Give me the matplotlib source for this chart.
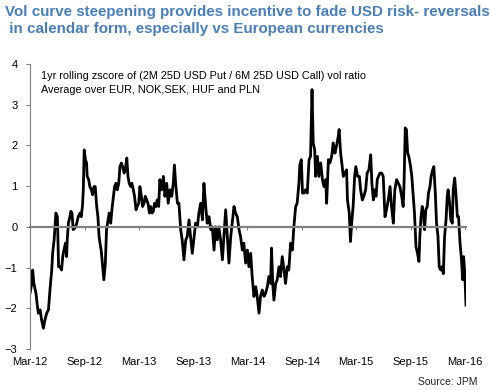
import numpy as np
import pandas as pd
import matplotlib
matplotlib.use("Agg")
import matplotlib.pyplot as plt
import matplotlib.dates as mdates

plt.rcParams['font.family'] = ['Liberation Sans', 'DejaVu Sans']

start = pd.Timestamp("2012-03-01")

# days after 1 Mar 2012
days = [
    0, 6, 9, 13, 20, 25, 28, 34, 39, 45, 50, 56, 62, 67, 73, 76, 81, 84, 87, 92,
    96, 101, 106, 110, 114, 119, 123, 125, 129, 134, 137, 141, 145, 151, 157, 162, 168, 172, 176, 179,
    182, 186, 190, 192, 197, 201, 206, 210, 215, 219, 224, 228, 232, 235, 239, 244, 248, 253, 257, 262,
    266, 271, 275, 280, 284, 289, 293, 298, 302, 307, 311, 316, 320, 325, 329, 333, 338, 342, 347, 351,
    356, 360, 365, 369, 374, 378, 383, 387, 392, 396, 401, 405, 410, 414, 418, 423, 427, 432, 436, 442,
    448, 453, 459, 464, 470, 476, 481, 485, 489, 495, 500, 506, 511, 517, 523, 528, 534, 539, 545, 551,
    556, 562, 567, 573, 579, 584, 590, 595, 601, 607, 612, 618, 623, 629, 634, 640, 646, 651, 657, 662,
    668, 674, 679, 685, 690, 696, 702, 707, 713, 718, 724, 730, 735, 741, 746, 752, 758, 763, 769, 774,
    780, 786, 791, 797, 802, 808, 811, 815, 819, 825, 830, 836, 841, 847, 853, 858, 864, 869, 875, 881,
    886, 892, 897, 903, 906, 911, 915, 920, 925, 931, 937, 942, 947, 951, 956, 959, 965, 970, 976, 982,
    987, 993, 996, 1002, 1007, 1013, 1018, 1024, 1029, 1035, 1038, 1043, 1047, 1052, 1057, 1063, 1066, 1072, 1076, 1081,
    1085, 1090, 1094, 1100, 1106, 1110, 1116, 1121, 1127, 1132, 1138, 1144, 1148, 1153, 1157, 1162, 1166, 1170, 1175, 1181,
    1186, 1192, 1197, 1203, 1209, 1214, 1220, 1225, 1231, 1237, 1242, 1248, 1253, 1256, 1260, 1264, 1268, 1272, 1278, 1282,
    1287, 1291, 1296, 1301, 1306, 1309, 1313, 1317, 1322, 1325, 1329, 1334, 1338, 1343, 1347, 1352, 1356, 1361, 1365, 1370,
    1374, 1379, 1383, 1388, 1392, 1397, 1401, 1404, 1409, 1413, 1418, 1421, 1426, 1430, 1435, 1439, 1444, 1448, 1453, 1456,
    1460, 1464,
]

zscore = [
    -1.63, -1.39, -1.06, -1.39, -1.63, -1.96, -2.12, -2.04, -2.29, -2.49, -2.29, -2.12, -2.04, -1.55, -1.06, -0.65, -0.32, 0.0, 0.34, 0.25,
    -0.98, -0.98, -1.06, -0.73, -0.57, -0.4, -0.73, -0.32, 0.09, 0.25, 0.38, 0.34, -0.07, -0.03, 0.09, 0.25, 0.34, 0.25, 0.5, 0.91,
    1.89, 1.65, 1.57, 1.24, 1.16, 0.99, 0.91, 0.79, 0.99, 0.99, 0.5, 0.25, -0.24, -0.4, -0.57, -0.98, -1.3, -0.89, -0.07, 0.17,
    0.34, 0.09, 0.42, 0.75, 0.99, 1.07, 0.91, 1.07, 1.48, 1.57, 1.48, 1.32, 1.4, 1.69, 1.24, 1.07, 0.99, 1.07, 0.91, 0.75,
    0.42, 0.5, 0.58, 0.99, 0.75, 0.5, 0.58, 0.75, 0.66, 0.58, 0.34, 0.5, 0.34, 0.38, 0.58, 0.5, 0.66, 0.5, 1.16, 0.91,
    1.24, 0.75, 1.07, 0.58, 0.91, 0.75, 1.07, 1.52, 1.07, 0.58, 0.58, -0.07, -0.32, -0.81, -0.32, -0.24, 0.17, -0.24, -0.65, -0.24,
    0.09, 0.0, 0.34, 0.58, 0.17, 1.07, 0.5, 0.09, 0.25, -0.07, 0.0, -0.57, 0.0, -0.32, 0.0, -0.32, -0.81, -0.24, 0.42, -0.16,
    -0.89, -0.24, 0.09, 0.5, 0.34, 0.25, -0.07, -0.24, -0.57, -0.4, -0.89, -0.57, -0.98, -0.65, -1.22, -1.71, -1.47, -1.71, -2.12, -1.71,
    -1.55, -1.71, -1.63, -1.47, -1.22, -1.39, -0.52, -1.39, -1.8, -1.39, -1.3, -0.98, -1.22, -0.73, -1.06, -1.39, -0.98, -1.06, -0.4, -0.57,
    0.0, 0.5, 0.58, 1.07, 1.52, 1.65, 0.83, 0.83, 0.91, 0.83, 1.65, 1.73, 3.37, 2.06, 1.89, 1.24, 1.73, 1.24, 1.57, 1.16,
    0.99, 1.16, 0.58, 1.65, 1.57, 1.73, 2.06, 1.81, 1.98, 2.22, 2.39, 1.81, 1.57, 1.24, 1.32, 1.4, 0.66, 0.34, -0.36, 0.17,
    0.5, 1.24, 1.48, 1.24, 1.24, 0.91, 0.66, 0.75, 0.91, 1.32, 1.4, 1.77, 1.07, 0.66, 0.91, 0.75, 1.16, 1.24, 1.32, 1.32,
    1.24, 0.25, 0.42, 0.66, 0.99, 0.5, 0.09, 0.91, 1.16, 1.07, 0.99, 0.75, 0.5, 1.07, 2.43, 2.39, 1.81, 1.73, 1.48, 1.24,
    0.75, 0.34, -0.48, -0.65, -0.85, -0.24, 0.25, 0.5, 0.25, -0.07, 0.42, 0.5, 0.83, 0.99, 1.24, 1.4, 1.48, 0.83, 0.09, -0.24,
    -0.98, -1.06, -0.98, -1.15, -0.24, 0.17, 0.75, 0.91, 0.58, 0.17, 0.09, 0.91, 1.2, 0.83, 0.25, 0.25, -0.4, -0.73, -1.3, -0.73,
    -1.15, -1.92,
]

tick_dates = ["2012-03-01", "2012-09-01", "2013-03-01", "2013-09-01", "2014-03-01",
              "2014-09-01", "2015-03-01", "2015-09-01", "2016-03-01"]

dates = start + pd.to_timedelta(days, unit="D")

fig = plt.figure(figsize=(4.9, 3.9), dpi=100)
ax = fig.add_axes([30 / 490, 41 / 390, 436 / 490, 285 / 390])

ax.plot(dates, zscore, color="black", lw=2.0)

ax.set_ylim(-3, 4)
ax.set_xlim(start, start + pd.Timedelta(days=1464))
ax.set_yticks(range(-3, 5))

grey = "#808080"
for s in ["top", "right"]:
    ax.spines[s].set_visible(False)
ax.spines["left"].set_color(grey)
ax.spines["left"].set_linewidth(0.8)
ax.spines["bottom"].set_position(("data", 0))
ax.spines["bottom"].set_color(grey)
ax.spines["bottom"].set_linewidth(1.6)

tks = pd.to_datetime(tick_dates)
ax.set_xticks(tks)
ax.tick_params(axis="x", length=2, color=grey, labelbottom=False)
ax.tick_params(axis="y", length=3, color=grey, labelsize=8, pad=6)

sec = ax.secondary_xaxis(0)
sec.set_xticks(tks)
sec.xaxis.set_major_formatter(mdates.DateFormatter("%b-%y"))
sec.tick_params(length=0, labelsize=8, pad=6)
sec.spines["bottom"].set_visible(False)

ax.text(0.025, 0.975, "1yr rolling zscore of (2M 25D USD Put / 6M 25D USD Call) vol ratio\n"
        "Average over EUR, NOK,SEK, HUF and PLN",
        transform=ax.transAxes, fontsize=7.8, va="top", ha="left", linespacing=1.45)

fig.text(5 / 490, 1 - 5 / 390, "Vol curve steepening provides incentive to fade USD risk- reversals\n"
         " in calendar form, especially vs European currencies",
         color="#4a7ebb", fontsize=10.9, fontweight="bold", va="top", ha="left", linespacing=1.3)

fig.text(418 / 490, 1 - 382 / 390, "Source: JPM", fontsize=7.5, color="#222222",
         va="center", ha="left")

fig.savefig("out.png", dpi=100)
